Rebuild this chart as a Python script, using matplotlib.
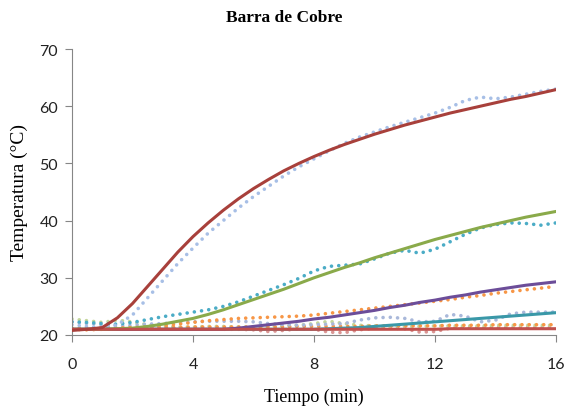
import matplotlib.pyplot as plt

# Tiempo (min), cada 0.5 min
tiempo = [0, 0.5, 1, 1.5, 2, 2.5, 3, 3.5, 4, 4.5, 5, 5.5, 6, 6.5, 7, 7.5, 8,
          8.5, 9, 9.5, 10, 10.5, 11, 11.5, 12, 12.5, 13, 13.5, 14, 14.5, 15, 15.5, 16]

# datos medidos (punteados)
med_1 = [21.8, 21.5, 21.2, 21.8, 23.5, 26.5, 29.5, 32.5, 35.2, 37.8, 40.0, 42.2, 44.2, 46.0, 47.8, 49.4, 50.8,
         52.2, 53.5, 54.6, 55.5, 56.4, 57.2, 58.0, 58.8, 59.8, 61.0, 61.6, 61.3, 61.6, 62.1, 62.6, 63.0]
med_2 = [22.3, 22.2, 22.0, 21.9, 22.2, 22.7, 23.2, 23.6, 24.0, 24.4, 25.0, 25.8, 26.8, 27.8, 28.8, 29.9, 31.2,
         32.0, 32.2, 32.4, 33.3, 34.3, 34.8, 34.3, 35.0, 36.3, 37.6, 38.7, 39.3, 39.6, 39.5, 39.2, 39.6]
med_3 = [21.0, 20.9, 21.0, 21.2, 21.3, 21.4, 21.6, 21.9, 22.2, 22.5, 22.7, 22.9, 23.0, 23.1, 23.2, 23.3, 23.5,
         23.8, 24.1, 24.4, 24.7, 25.0, 25.3, 25.6, 25.9, 26.2, 26.6, 26.9, 27.3, 27.6, 27.9, 28.2, 28.5]
med_4 = [22.3, 22.0, 21.8, 21.6, 21.7, 21.9, 22.0, 22.2, 22.3, 22.4, 22.4, 22.4, 22.3, 22.0, 21.8, 21.7, 21.8,
         21.9, 22.0, 22.6, 23.0, 23.1, 22.9, 22.3, 22.4, 23.6, 23.3, 22.3, 22.6, 23.7, 24.0, 24.0, 24.0]
med_5 = [21.0, 21.1, 21.2, 21.2, 21.2, 21.1, 21.1, 21.2, 21.2, 21.1, 21.0, 21.0, 20.9, 20.6, 20.8, 21.1, 21.0,
         20.5, 20.4, 20.9, 21.2, 21.2, 21.1, 20.5, 20.6, 21.2, 21.3, 21.3, 21.3, 21.3, 21.3, 21.3, 21.3]
med_6 = [22.8, 22.5, 22.2, 22.6, 22.3, 21.8, 21.5, 21.4, 21.4, 21.5, 21.5, 21.4, 21.4, 21.5, 21.6, 21.7, 22.0,
         22.4, 22.0, 21.7, 21.6, 21.5, 21.5, 21.5, 21.6, 21.6, 21.6, 21.6, 21.7, 21.7, 21.7, 21.7, 21.7]
med_7 = [21.2, 21.2, 21.3, 21.3, 21.3, 21.3, 21.3, 21.3, 21.4, 21.4, 21.4, 21.4, 21.4, 21.4, 21.4, 21.5, 21.5,
         21.5, 21.5, 21.5, 21.6, 21.6, 21.6, 21.6, 21.6, 21.7, 21.7, 21.7, 21.8, 21.8, 21.8, 21.8, 21.8]

# modelos (continuos)
mod_1 = [20.8, 21.0, 21.3, 23.0, 25.5, 28.5, 31.5, 34.5, 37.2, 39.6, 41.8, 43.8, 45.6, 47.2, 48.7, 50.0, 51.2,
         52.3, 53.3, 54.2, 55.1, 55.9, 56.7, 57.4, 58.1, 58.8, 59.4, 60.0, 60.6, 61.2, 61.7, 62.3, 62.9]
mod_2 = [21.0, 21.0, 21.0, 21.1, 21.2, 21.5, 21.9, 22.4, 22.9, 23.6, 24.4, 25.3, 26.2, 27.1, 28.0, 29.0, 30.0,
         30.9, 31.8, 32.6, 33.5, 34.3, 35.1, 35.9, 36.7, 37.4, 38.1, 38.8, 39.4, 40.0, 40.6, 41.1, 41.6]
mod_3 = [21.0, 21.0, 21.0, 21.0, 21.0, 21.0, 21.0, 21.0, 21.0, 21.0, 21.0, 21.2, 21.5, 21.8, 22.1, 22.4, 22.8,
         23.1, 23.5, 23.9, 24.3, 24.8, 25.2, 25.7, 26.1, 26.6, 27.0, 27.5, 27.9, 28.3, 28.7, 29.0, 29.3]
mod_4 = [21.0, 21.0, 21.0, 21.0, 21.0, 21.0, 21.0, 21.0, 21.0, 21.0, 21.0, 21.0, 21.0, 21.0, 21.0, 21.0, 21.0,
         21.1, 21.2, 21.3, 21.5, 21.7, 21.9, 22.1, 22.3, 22.5, 22.7, 22.9, 23.1, 23.3, 23.5, 23.7, 23.9]
mod_5 = [21.0, 21.0, 21.0, 21.0, 21.0, 21.0, 21.0, 21.0, 21.0, 21.0, 21.0, 21.0, 21.0, 21.0, 21.0, 21.0, 21.0,
         21.0, 21.0, 21.0, 21.0, 21.0, 21.0, 21.0, 21.0, 21.1, 21.1, 21.1, 21.1, 21.1, 21.1, 21.1, 21.1]

fig = plt.figure(figsize=(5.67, 4.10), dpi=100)
ax = fig.add_axes([72 / 567, 1 - 336 / 410, 484 / 567, 286 / 410])

dot = (0, (0.01, 2.0))
for y, c in [(med_5, '#D99694'), (med_6, '#C3D69B'), (med_7, '#F79646'), (med_4, '#A9B8DA'),
             (med_3, '#F79646'), (med_2, '#4BACC6'), (med_1, '#A7BFE6')]:
    ax.plot(tiempo, y, color=c, lw=2.6, linestyle=dot, dash_capstyle='round', zorder=2)

for y, c in [(mod_4, '#3A98A8'), (mod_3, '#6C4D99'), (mod_2, '#8AAA4A'), (mod_5, '#C0504D'), (mod_1, '#A8403B')]:
    ax.plot(tiempo, y, color=c, lw=2.2, solid_capstyle='round', zorder=3)

ax.set_xlim(0, 16)
ax.set_ylim(20, 70)
ax.set_xticks([0, 4, 8, 12, 16])
ax.set_yticks([20, 30, 40, 50, 60, 70])
for s in ['top', 'right']:
    ax.spines[s].set_visible(False)
for s in ['left', 'bottom']:
    ax.spines[s].set_color('#868686')
ax.tick_params(axis='both', colors='#868686', length=5, labelcolor='#222222', labelsize=11.5)
ax.tick_params(axis='x', pad=11)
ax.tick_params(axis='y', pad=5)
for lab in ax.get_xticklabels() + ax.get_yticklabels():
    lab.set_family('Lato')

ax.set_xlabel('Tiempo (min)', family='Liberation Serif', fontsize=13, labelpad=12)
ax.set_ylabel('Temperatura (°C)', family='Liberation Serif', fontsize=14, labelpad=8)
fig.text(284 / 567, 1 - 18 / 410, 'Barra de Cobre', family='Liberation Serif', fontsize=12.5,
         weight='bold', ha='center', va='center')

fig.savefig('out.png', dpi=100)
